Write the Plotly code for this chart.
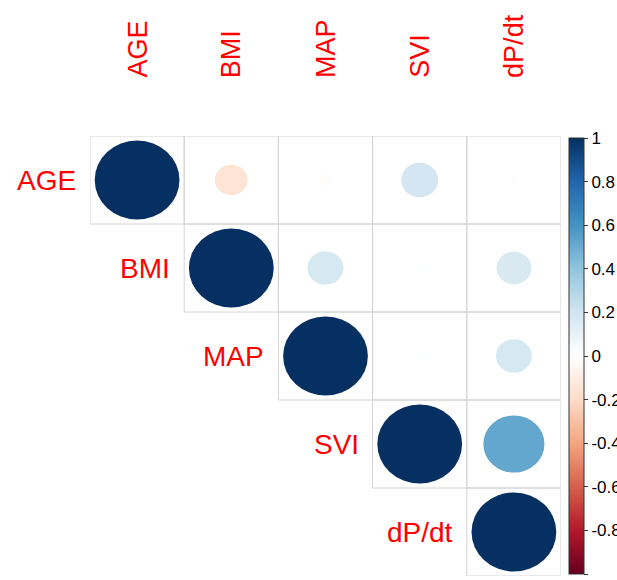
import plotly.graph_objects as go

labels = ["AGE", "BMI", "MAP", "SVI", "dP/dt"]
# upper-triangle correlation values (row i, column j >= i)
corr = [
    [1.00, -0.15, -0.02, 0.19, 0.01],
    [None, 1.00, 0.18, 0.01, 0.17],
    [None, None, 1.00, 0.01, 0.18],
    [None, None, None, 1.00, 0.52],
    [None, None, None, None, 1.00],
]
col2_rdbu = ["#67001F", "#B2182B", "#D6604D", "#F4A582", "#FDDBC7", "#FFFFFF",
             "#D1E5F0", "#92C5DE", "#4393C3", "#2166AC", "#053061"]
colorbar_ticks = [-1, -0.8, -0.6, -0.4, -0.2, 0, 0.2, 0.4, 0.6, 0.8, 1]


def hex2rgb(h):
    h = h.lstrip("#")
    return tuple(int(h[k:k + 2], 16) for k in (0, 2, 4))


def value_color(v):
    t = (v + 1) / 2 * (len(col2_rdbu) - 1)
    i = min(int(t), len(col2_rdbu) - 2)
    f = t - i
    a, b = hex2rgb(col2_rdbu[i]), hex2rgb(col2_rdbu[i + 1])
    c = [round(a[k] + (b[k] - a[k]) * f) for k in range(3)]
    return "rgb(%d,%d,%d)" % tuple(c)


colorscale = [[k / (len(col2_rdbu) - 1), c] for k, c in enumerate(col2_rdbu)]

n = len(labels)
shapes = []
xs, ys, vs = [], [], []
for i in range(n):
    for j in range(i, n):
        shapes.append(dict(type="rect", xref="x", yref="y",
                           x0=j - 0.5, x1=j + 0.5, y0=-i - 0.5, y1=-i + 0.5,
                           line=dict(color="#d4d4d4", width=1), layer="below"))
for i in range(n):
    for j in range(i, n):
        v = corr[i][j]
        r = 0.45 * abs(v) ** 0.5
        shapes.append(dict(type="circle", xref="x", yref="y",
                           x0=j - r, x1=j + r, y0=-i - r, y1=-i + r,
                           fillcolor=value_color(v), line=dict(width=0)))
        xs.append(j)
        ys.append(-i)
        vs.append(v)

fig = go.Figure()
fig.add_trace(go.Scatter(
    x=xs, y=ys, mode="markers", hoverinfo="skip",
    marker=dict(color=vs, colorscale=colorscale, cmin=-1, cmax=1, size=1, opacity=0,
                showscale=True,
                colorbar=dict(x=(569 - 90) / 471, xanchor="left", xpad=0,
                              y=0.5, yanchor="middle", ypad=2,
                              len=1, lenmode="fraction", thickness=15,
                              outlinecolor="#333333", outlinewidth=1,
                              tickvals=colorbar_ticks,
                              ticktext=[("%g" % t) for t in colorbar_ticks],
                              ticks="outside", ticklen=4, tickcolor="#333333",
                              tickfont=dict(family="Liberation Sans, Arial", size=17, color="black"))),
))

annotations = []
for k, lab in enumerate(labels):
    annotations.append(dict(x=k, y=1, xref="x", yref="paper", text=lab, showarrow=False,
                            textangle=-90, xanchor="center", yanchor="bottom", yshift=56,
                            font=dict(family="Liberation Sans, Arial", size=27, color="#FF0000")))
    annotations.append(dict(x=k - 0.5, y=-k, xref="x", yref="y", text=lab, showarrow=False,
                            xanchor="right", yanchor="middle", xshift=-12,
                            font=dict(family="Liberation Sans, Arial", size=28, color="#FF0000")))

fig.update_layout(
    width=617, height=580, autosize=False,
    margin=dict(l=90, r=56, t=136, b=4, autoexpand=False),
    paper_bgcolor="white", plot_bgcolor="white",
    showlegend=False,
    shapes=shapes, annotations=annotations,
    xaxis=dict(range=[-0.5, 4.5], visible=False, fixedrange=True),
    yaxis=dict(range=[-4.5, 0.5], visible=False, fixedrange=True),
)
fig.write_html("out.html")
